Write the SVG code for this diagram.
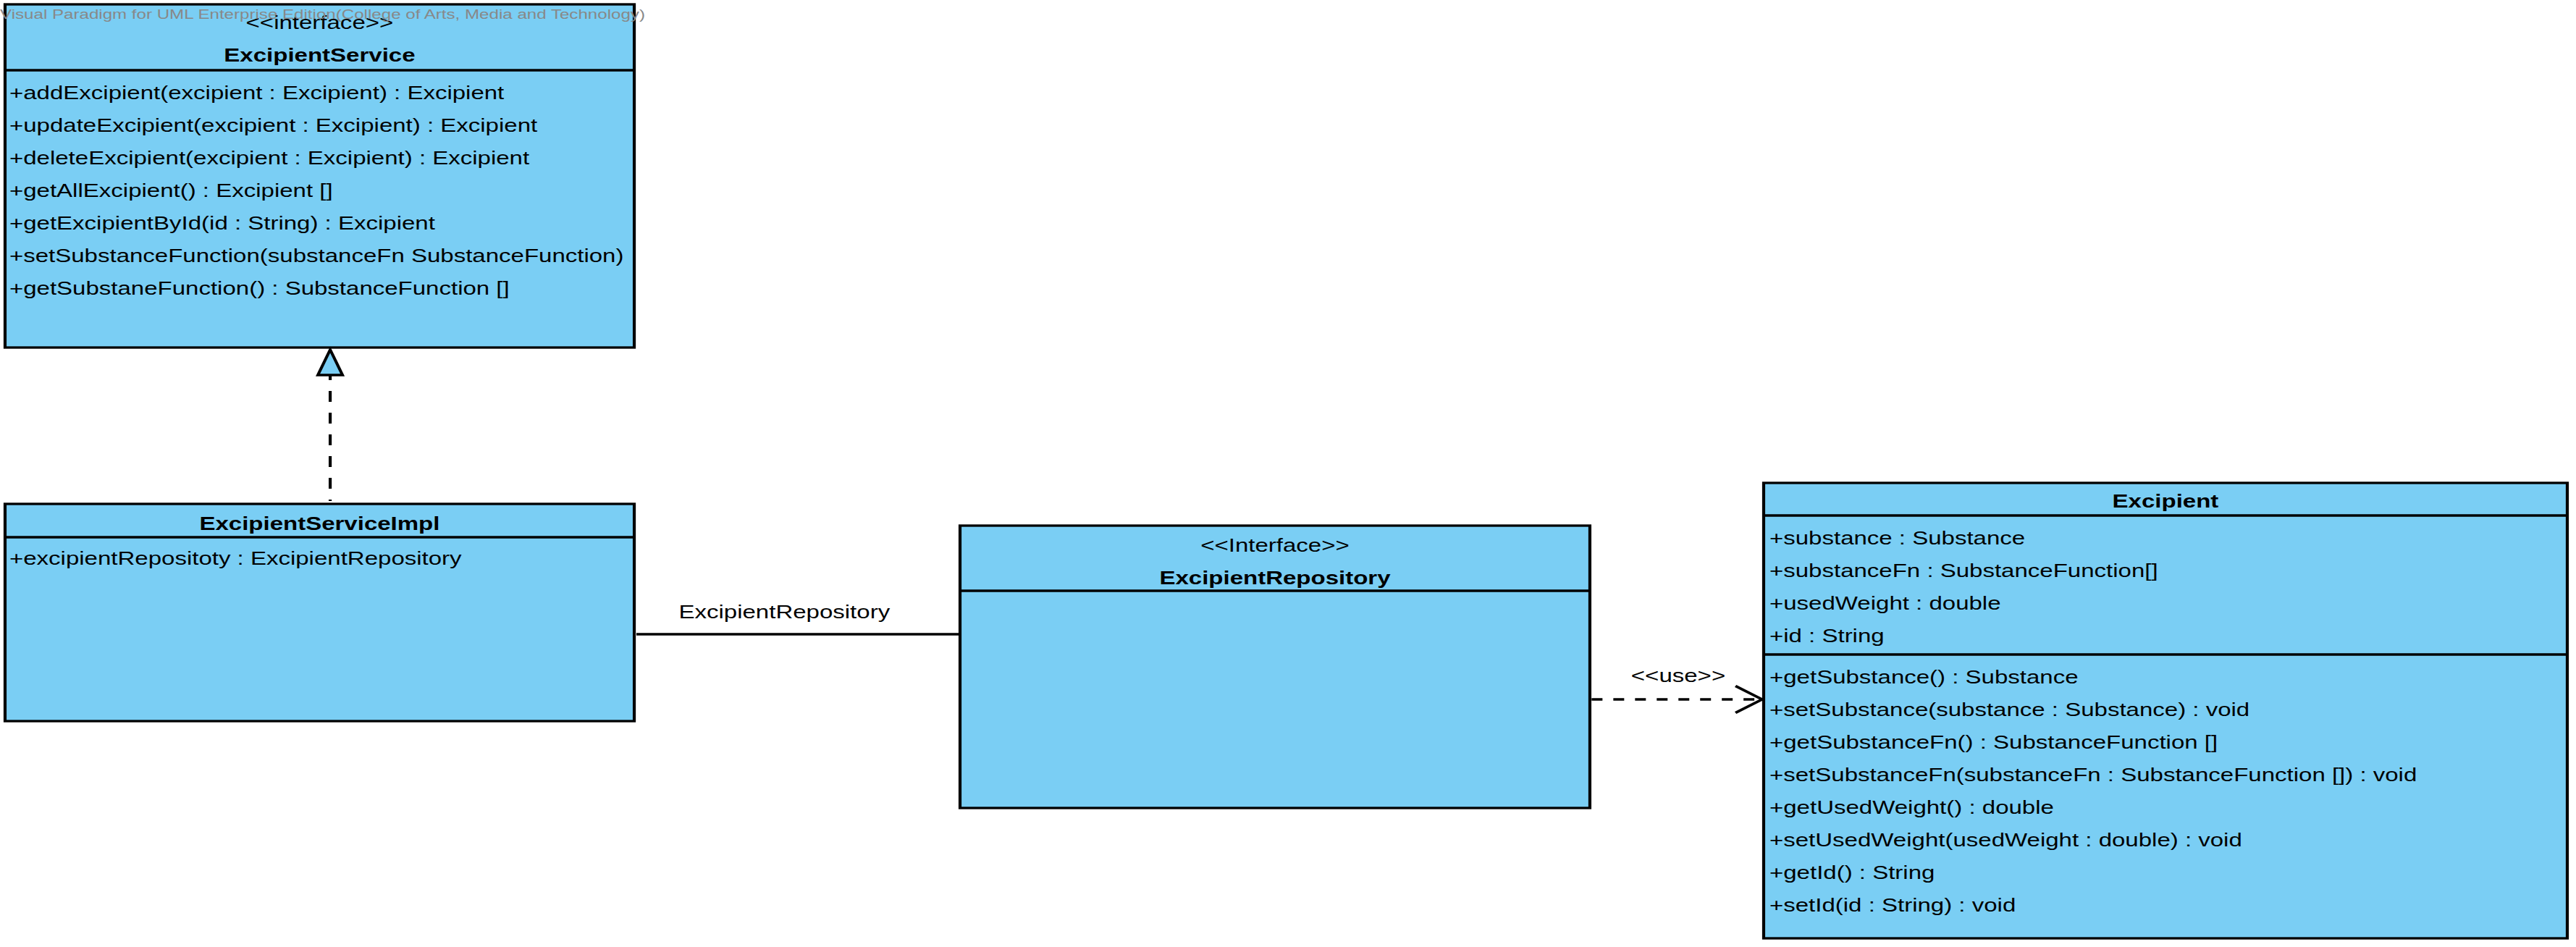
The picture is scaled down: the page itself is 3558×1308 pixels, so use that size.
<svg xmlns="http://www.w3.org/2000/svg" width="3558" height="1308" viewBox="0 0 3558 1308">
<style>
.box{fill:#7ACEF4;stroke:#000;stroke-width:3.3}
.div{stroke:#000;stroke-width:3.3;fill:none}
text{font-family:"Liberation Sans",Arial,sans-serif;font-size:26px;fill:#000}
.c{text-anchor:middle}
.b{font-weight:bold}
.wm{font-size:19px;fill:#888888}
.conn{stroke:#000;stroke-width:3.3;fill:none}
</style>
<defs>
<marker id="realize" markerUnits="userSpaceOnUse" orient="auto" refX="0" refY="0" markerWidth="40" markerHeight="40" viewBox="-2 -16 40 32" overflow="visible">
<path d="M0,-13.4 L35,0 L0,13.4 Z" fill="#7ACEF4" stroke="#000" stroke-width="3.3" stroke-linejoin="miter"/>
</marker>
<marker id="open" markerUnits="userSpaceOnUse" orient="auto" refX="0" refY="0" markerWidth="40" markerHeight="40" viewBox="-32 -20 34 40" overflow="visible">
<path d="M-29,-18.5 L0,0 L-29,18.5" fill="none" stroke="#000" stroke-width="3.3"/>
</marker>
</defs>
<rect width="3558" height="1308" fill="#fff"/>
<g transform="scale(1.27 1)">
<g id="ExcipientService">
<rect class="box" x="5.5" y="6" width="684.3" height="474"/>
<line class="div" x1="5.5" y1="97" x2="689.8" y2="97"/>
<text class="c" x="347.6" y="40">&lt;&lt;interface&gt;&gt;</text>
<text class="c b" x="347.6" y="85">ExcipientService</text>
<text x="10.2" y="137">+addExcipient(excipient : Excipient) : Excipient</text>
<text x="10.2" y="182">+updateExcipient(excipient : Excipient) : Excipient</text>
<text x="10.2" y="227">+deleteExcipient(excipient : Excipient) : Excipient</text>
<text x="10.2" y="272">+getAllExcipient() : Excipient []</text>
<text x="10.2" y="317">+getExcipientById(id : String) : Excipient</text>
<text x="10.2" y="362">+setSubstanceFunction(substanceFn SubstanceFunction)</text>
<text x="10.2" y="407">+getSubstaneFunction() : SubstanceFunction []</text>
</g>
<g id="ExcipientServiceImpl">
<rect class="box" x="5.5" y="696" width="684.3" height="300"/>
<line class="div" x1="5.5" y1="742" x2="689.8" y2="742"/>
<text class="c b" x="347.6" y="732">ExcipientServiceImpl</text>
<text x="10.2" y="780">+excipientRepositoty : ExcipientRepository</text>
</g>
<g id="ExcipientRepository">
<rect class="box" x="1044.1" y="726" width="685" height="390"/>
<line class="div" x1="1044.1" y1="816" x2="1729.1" y2="816"/>
<text class="c" x="1386.6" y="762">&lt;&lt;Interface&gt;&gt;</text>
<text class="c b" x="1386.6" y="807">ExcipientRepository</text>
</g>
<g id="Excipient">
<rect class="box" x="1918.1" y="667" width="874" height="629"/>
<line class="div" x1="1918.1" y1="712" x2="2792.1" y2="712"/>
<line class="div" x1="1918.1" y1="904" x2="2792.1" y2="904"/>
<text class="c b" x="2355.1" y="701">Excipient</text>
<text x="1924.4" y="752">+substance : Substance</text>
<text x="1924.4" y="797">+substanceFn : SubstanceFunction[]</text>
<text x="1924.4" y="842">+usedWeight : double</text>
<text x="1924.4" y="887">+id : String</text>
<text x="1924.4" y="944">+getSubstance() : Substance</text>
<text x="1924.4" y="989">+setSubstance(substance : Substance) : void</text>
<text x="1924.4" y="1034">+getSubstanceFn() : SubstanceFunction []</text>
<text x="1924.4" y="1079">+setSubstanceFn(substanceFn : SubstanceFunction []) : void</text>
<text x="1924.4" y="1124">+getUsedWeight() : double</text>
<text x="1924.4" y="1169">+setUsedWeight(usedWeight : double) : void</text>
<text x="1924.4" y="1214">+getId() : String</text>
<text x="1924.4" y="1259">+setId(id : String) : void</text>
</g>
<g id="connectors">
<line class="conn" x1="359.1" y1="692" x2="359.1" y2="518" stroke-dasharray="15 15" stroke-dashoffset="13" marker-end="url(#realize)"/>
<line class="conn" x1="692.1" y1="876" x2="1043" y2="876"/>
<text class="c" x="853" y="854">ExcipientRepository</text>
<line class="conn" x1="1731" y1="966" x2="1916.5" y2="966" stroke-dasharray="11.8 11.8" marker-end="url(#open)"/>
<text class="c" x="1825.2" y="942">&lt;&lt;use&gt;&gt;</text>
</g>
<text class="wm" x="0" y="26">Visual Paradigm for UML Enterprise Edition(College of Arts, Media and Technology)</text>
</g>
</svg>
